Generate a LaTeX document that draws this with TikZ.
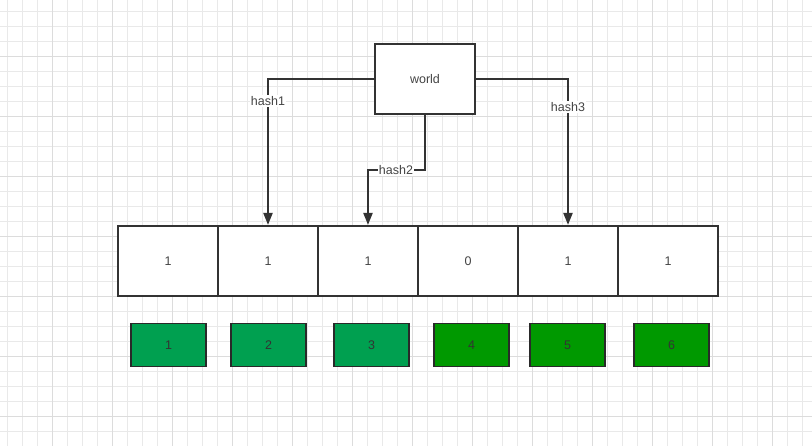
\documentclass[tikz,border=0pt]{standalone}
\usepackage{fontspec}
\setmainfont{Liberation Sans}
\usetikzlibrary{arrows.meta}
\definecolor{gridminor}{HTML}{E9E9E9}
\definecolor{gridmajor}{HTML}{DCDCDC}
\definecolor{ink}{HTML}{333333}
\definecolor{txt}{HTML}{444444}
\definecolor{greenA}{HTML}{00A050}
\definecolor{greenB}{HTML}{009900}
\tikzset{
  cell/.style={draw=ink, line width=2.1pt, fill=white, minimum width=100pt, minimum height=70pt, inner sep=0pt, font=\fontsize{12.5}{14}\selectfont, text=txt},
  wordbox/.style={draw=ink, line width=2.1pt, fill=white, minimum width=100pt, minimum height=70pt, inner sep=0pt, font=\fontsize{12.5}{14}\selectfont, text=txt},
  idx/.style={draw=ink!80!black, line width=1.9pt, minimum width=75pt, minimum height=43pt, inner sep=0pt, font=\fontsize{12.5}{14}\selectfont, text=ink},
  conn/.style={draw=ink, line width=2.1pt, -{Triangle[width=9pt,length=12pt]}},
  lbl/.style={fill=white, inner sep=1pt, font=\fontsize{12.5}{14}\selectfont, text=txt}
}
\begin{document}
\begin{tikzpicture}[x=1pt,y=-1pt]
\useasboundingbox (0,0) rectangle (812,446);
\fill[white] (0,0) rectangle (812,446);
% grid
\foreach \i in {0,...,54} {
  \draw[gridminor, line width=0.9pt] ({7.3+15*\i},0) -- ({7.3+15*\i},446);
}
\foreach \j in {0,...,29} {
  \draw[gridminor, line width=0.9pt] (0,{11.7+15*\j}) -- (812,{11.7+15*\j});
}
\foreach \i in {0,...,13} {
  \draw[gridmajor, line width=0.9pt] ({52.3+60*\i},0) -- ({52.3+60*\i},446);
}
\foreach \j in {0,...,7} {
  \draw[gridmajor, line width=0.9pt] (0,{56.7+60*\j}) -- (812,{56.7+60*\j});
}
% word box
\node[wordbox] (w) at (425,79) {world};
% array cells
\node[cell] (c1) at (168,261) {1};
\node[cell] (c2) at (268,261) {1};
\node[cell] (c3) at (368,261) {1};
\node[cell] (c4) at (468,261) {0};
\node[cell] (c5) at (568,261) {1};
\node[cell] (c6) at (668,261) {1};
% index boxes
\node[idx, fill=greenA] (i1) at (168.5,345) {1};
\node[idx, fill=greenA] (i2) at (268.5,345) {2};
\node[idx, fill=greenA] (i3) at (371.5,345) {3};
\node[idx, fill=greenB] (i4) at (471.5,345) {4};
\node[idx, fill=greenB] (i5) at (567.5,345) {5};
\node[idx, fill=greenB] (i6) at (671.5,345) {6};
% connectors
\draw[conn] (w.west) -| (c2.north);
\node[lbl] (l1) at (268,101) {hash1};
\coordinate (k2) at (425,170);
\draw[conn] (w.south) -- (k2) -| (c3.north);
\node[lbl] (l2) at (396,170) {hash2};
\draw[conn] (w.east) -| (c5.north);
\node[lbl] (l3) at (568,107) {hash3};
\end{tikzpicture}
\end{document}
